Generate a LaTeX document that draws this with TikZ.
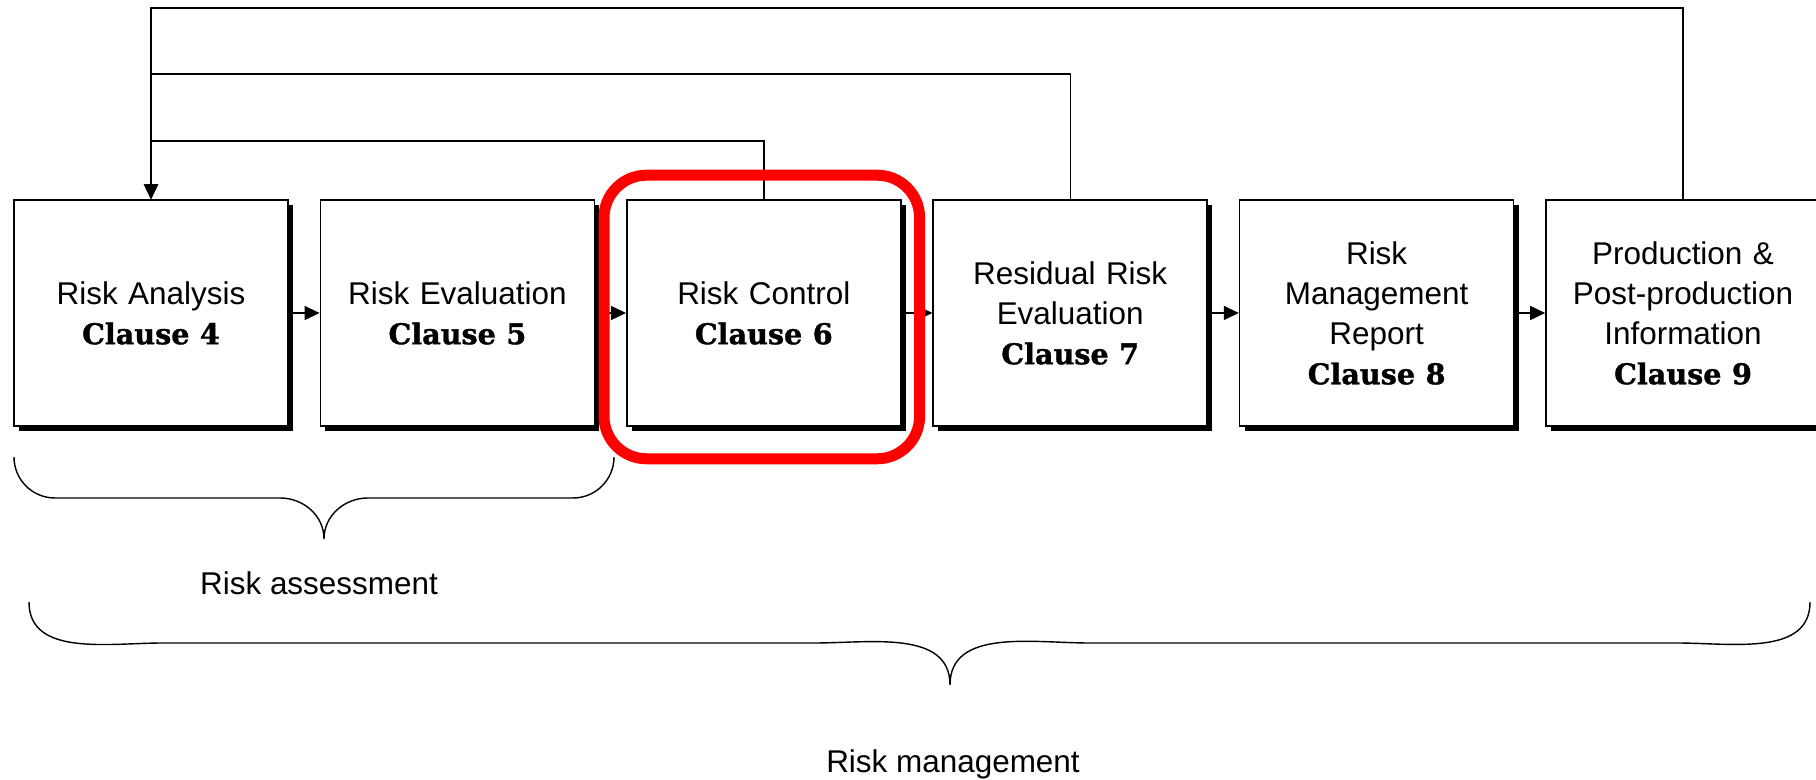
\documentclass[tikz,border=0pt]{standalone}
\usepackage{fontspec}
\setmainfont{Liberation Sans}
\newfontfamily\clauseserif{DejaVu Serif}[BoldFeatures={FakeBold=1.2}]
\usepackage{tikz}
\usetikzlibrary{arrows.meta,shapes,positioning,shadows}
\usepackage{xcolor}
\definecolor{hlred}{RGB}{255,0,0}
\newcommand{\clausetag}[1]{{\clauseserif\bfseries\fontsize{16.3}{22.8}\selectfont Clause #1}}
\tikzstyle{stage} = [rectangle, minimum width=5.48cm, minimum height=4.52cm, text width=5.2cm, align=center, draw=black, fill=white, line width=0.9pt, font=\fontsize{17.9}{22.8}\selectfont, drop shadow={fill=black, opacity=1, shadow xshift=0.1cm, shadow yshift=-0.1cm}]
\tikzstyle{arrow} = [line width=0.8pt,-{Triangle[length=0.3cm,width=0.28cm]}]
\tikzstyle{brace} = [line width=0.8pt]
\tikzstyle{highlight} = [draw=hlred, line width=0.22cm, rounded corners=0.85cm]
\tikzstyle{caption} = [anchor=base, font=\fontsize{17.9}{22.8}\selectfont]

\begin{document}
\begin{tikzpicture}[node distance=6.128cm]
\useasboundingbox (0,0) rectangle (36.32,15.6);
\clip (0,0) rectangle (36.32,15.6);
% Stages
\node (analysis) [stage] at (3.02,9.34) {Risk Analysis\\\clausetag{4}};
\node (evaluation) [stage, right of=analysis] {Risk Evaluation\\\clausetag{5}};
\node (control) [stage, right of=evaluation] {Risk Control\\\clausetag{6}};
\node (residual) [stage, right of=control] {Residual Risk\\Evaluation\\\clausetag{7}};
\node (report) [stage, right of=residual] {Risk\\Management\\Report\\\clausetag{8}};
\node (production) [stage, right of=report] {Production \&\\Post-production\\Information\\\clausetag{9}};
% Flow
\draw [arrow] (analysis) -- (evaluation);
\draw [arrow] (evaluation) -- (control);
\draw [arrow] (control) -- (residual);
\draw [arrow] (residual) -- (report);
\draw [arrow] (report) -- (production);
% Feedback
\draw [arrow] (control.north) -- ++(0,1.16) -| (analysis.north);
\draw [arrow] (residual.north) -- ++(0,2.5) -| (analysis.north);
\draw [arrow] (production.north) -- ++(0,3.82) -| (analysis.north);
% Highlight
\draw [highlight] ([shift={(-0.44,0.48)}]control.north west) rectangle ([shift={(0.36,-0.64)}]control.south east);
% Braces
\draw [brace] (0.28,6.46) to[out=-90,in=180] (1.1,5.64) -- (5.6,5.64) to[out=0,in=90] (6.48,4.82) to[out=90,in=180] (7.36,5.64) -- (11.46,5.64) to[out=0,in=-90] (12.28,6.46);
\node (assessment) [caption] at (6.38,3.71) {Risk assessment};
\draw [brace] (0.58,3.56) to[out=-90,in=180] (3.26,2.74) -- (16.3,2.74) to[out=0,in=90] (19.0,1.9) to[out=90,in=180] (21.78,2.74) -- (33.54,2.74) to[out=0,in=-90] (36.2,3.56);
\node (management) [caption] at (19.06,0.15) {Risk management};
\end{tikzpicture}
\end{document}
